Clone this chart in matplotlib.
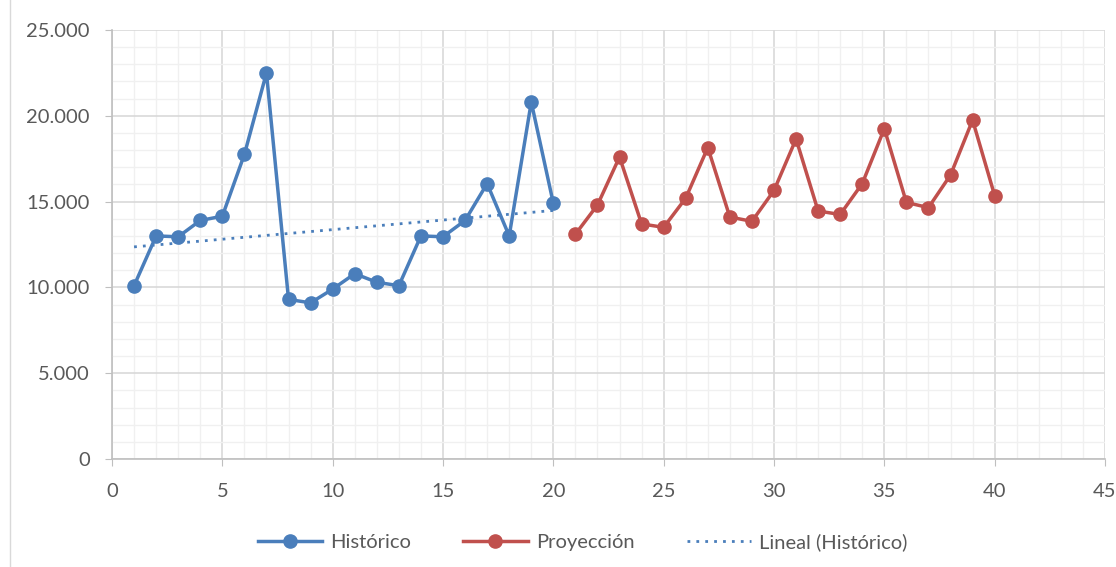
import numpy as np
import matplotlib
matplotlib.use("Agg")
import matplotlib.pyplot as plt
from matplotlib.ticker import MultipleLocator, FuncFormatter

plt.rcParams['font.family'] = ['Lato', 'DejaVu Sans']

# Serie histórica (periodos 1-20) y proyección (periodos 21-40)
periodos_hist = list(range(1, 21))
historico = [10100, 13000, 12950, 13900, 14150, 17750, 22500, 9300, 9100, 9900,
             10800, 10300, 10100, 13000, 12950, 13900, 16050, 13000, 20800, 14900]

periodos_proy = list(range(21, 41))
proyeccion = [13100, 14800, 17600, 13700, 13500, 15200, 18150, 14100, 13850, 15650,
              18650, 14450, 14250, 16050, 19250, 14950, 14650, 16550, 19750, 15350]

azul = '#4A7EBB'
rojo = '#C0504D'
gris_texto = '#595959'

fig = plt.figure(figsize=(11.16, 5.67), dpi=100)
ax = fig.add_axes([112 / 1116, 1 - 459 / 567, (1105 - 112) / 1116, (459 - 30) / 567])

ax.plot(periodos_hist, historico, color=azul, lw=2.5, marker='o', ms=9.5,
        label='Histórico', zorder=4)
ax.plot(periodos_proy, proyeccion, color=rojo, lw=2.5, marker='o', ms=9.5,
        label='Proyección', zorder=4)

# línea de tendencia lineal sobre el histórico
x = np.array(periodos_hist)
m, b = np.polyfit(x, historico, 1)
ax.plot(x, m * x + b, color=azul, lw=2, linestyle=(0, (1, 2.2)),
        label='Lineal (Histórico)', zorder=3)

ax.set_xlim(0, 45)
ax.set_ylim(0, 25000)
ax.xaxis.set_major_locator(MultipleLocator(5))
ax.xaxis.set_minor_locator(MultipleLocator(1))
ax.yaxis.set_major_locator(MultipleLocator(5000))
ax.yaxis.set_minor_locator(MultipleLocator(1000))
ax.yaxis.set_major_formatter(FuncFormatter(lambda v, p: f"{int(v):,}".replace(',', '.')))

ax.grid(which='major', color='#D9D9D9', lw=1.2, zorder=0)
ax.grid(which='minor', color='#F0F0F0', lw=1.0, zorder=0)
ax.set_axisbelow(True)

for lado in ['top', 'right']:
    ax.spines[lado].set_visible(False)
for lado in ['left', 'bottom']:
    ax.spines[lado].set_color('#BFBFBF')
    ax.spines[lado].set_linewidth(1.2)

ax.tick_params(which='major', length=5, color='#BFBFBF', labelcolor=gris_texto,
               labelsize=14.5)
ax.tick_params(axis='y', pad=11)
ax.tick_params(axis='x', pad=12)
ax.tick_params(which='minor', length=0)

leg = fig.legend(loc='center', bbox_to_anchor=(0.522, 1 - 542 / 567), ncol=3,
                 frameon=False, fontsize=14.5, handlelength=3.2, columnspacing=2.6,
                 handletextpad=0.4)
for t in leg.get_texts():
    t.set_color(gris_texto)

# borde izquierdo del área del gráfico
fig.add_artist(plt.Line2D([10 / 1116, 10 / 1116], [0, 1], color='#D9D9D9', lw=1))

fig.savefig('out.png', dpi=100)
